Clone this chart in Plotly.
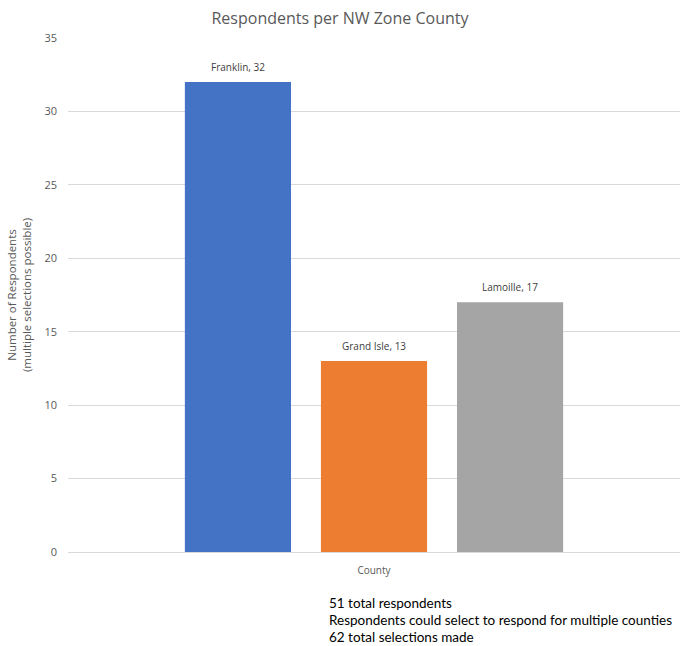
import plotly.graph_objects as go

# Survey responses by county in the NW zone
counties = ["Franklin", "Grand Isle", "Lamoille"]
respondents = [32, 13, 17]
colors = ["#4472C4", "#ED7D31", "#A5A5A5"]
category = ["County"]
y_ticks = [0, 5, 10, 15, 20, 25, 30, 35]
notes = [
    "51 total respondents",
    "Respondents could select to respond for multiple counties",
    "62 total selections made",
]

fig = go.Figure()
for name, val, col in zip(counties, respondents, colors):
    fig.add_trace(go.Bar(
        x=category, y=[val], name=name,
        marker=dict(color=col, line=dict(width=0)),
    ))

fig.update_layout(
    width=680, height=646,
    margin=dict(l=68, r=0, t=38, b=94),
    paper_bgcolor="white", plot_bgcolor="white",
    barmode="group", bargap=0.333, bargroupgap=0.22,
    showlegend=False,
    font=dict(family="Open Sans, sans-serif", color="#595959"),
    title=dict(text="Respondents per NW Zone County", x=0.5, xanchor="center",
               y=0.972, yanchor="middle",
               font=dict(size=16, color="#595959")),
    yaxis=dict(range=[0, 35], tickvals=y_ticks, showgrid=True,
               gridcolor="#D9D9D9", gridwidth=1, zeroline=False,
               tickfont=dict(size=11, color="#595959"), ticks="",
               ticklabelstandoff=10,
               title=dict(text="Number of Respondents<br>(multiple selections possible)",
                          font=dict(size=11.5, color="#595959"), standoff=10)),
    xaxis=dict(showline=True, linecolor="#D9D9D9", linewidth=1, ticks="",
               ticklabelstandoff=9,
               tickfont=dict(size=10, color="#595959")),
)

# Data labels placed just above each bar, offset per bar within the group
n = len(counties)
slot = (1 - 0.333) / n
for i, (name, val) in enumerate(zip(counties, respondents)):
    fig.add_annotation(
        x=(i - (n - 1) / 2) * slot, y=val, xref="x", yref="y",
        text=f"{name}, {val}", showarrow=False,
        yanchor="bottom", yshift=6,
        font=dict(family="Open Sans, sans-serif", size=10, color="#404040"),
    )

for i, line in enumerate(notes):
    fig.add_annotation(
        text=line, xref="paper", yref="paper",
        x=(327 - 68) / 612, y=-(603 - 552 + 17 * i) / 514,
        xanchor="left", yanchor="middle", showarrow=False,
        font=dict(family="Lato, sans-serif", size=13.5, color="#000000"),
    )

fig.write_html("out.html")
